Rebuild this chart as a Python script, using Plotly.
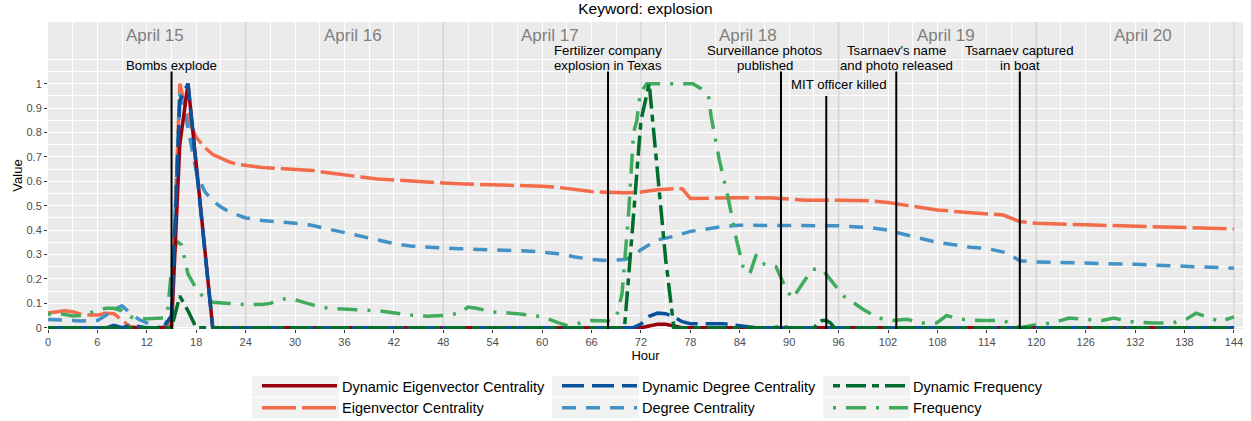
import plotly.graph_objects as go

# ---------------- data ----------------
hours_dec = [0, 14, 15, 16, 17, 18, 19, 20, 72, 73, 74, 75, 76, 77, 144]
dyn_eigen = [0, 0, 0, 0.75, 1.0, 0.67, 0.33, 0, 0, 0.008, 0.014, 0.014, 0.008, 0, 0]

hours_ec = [0, 1, 2, 3, 4, 5, 6, 7, 8, 9, 10, 11, 14, 15, 16, 17, 18, 19, 20, 21, 22, 23, 24,
            26, 28, 30, 32, 34, 36, 38, 40, 42, 44, 46, 48, 50, 52, 54, 56, 58, 60, 62, 64, 66,
            68, 70, 72, 74, 76, 77, 78, 80, 84, 88, 90, 92, 96, 100, 102, 104, 106, 108, 110,
            112, 114, 116, 118, 120, 126, 132, 138, 144]
eigen = [0.06, 0.065, 0.07, 0.066, 0.056, 0.052, 0.052, 0.06, 0.058, 0.03, 0.005, 0, 0, 0.02,
         1.0, 0.86, 0.78, 0.74, 0.71, 0.695, 0.68, 0.67, 0.665,
         0.657, 0.653, 0.65, 0.645, 0.635, 0.625, 0.618, 0.61, 0.605, 0.6, 0.596, 0.593, 0.59,
         0.588, 0.586, 0.585, 0.583, 0.58, 0.575, 0.565, 0.558, 0.555, 0.553, 0.556, 0.566,
         0.57, 0.57, 0.53, 0.532, 0.533, 0.532, 0.526, 0.523, 0.523, 0.52, 0.513, 0.502,
         0.492, 0.483, 0.477, 0.472, 0.467, 0.462, 0.435, 0.428, 0.422, 0.417, 0.41, 0.405]

hours_ddc = [0, 7, 8, 9, 10, 11, 12, 14, 15, 16, 17, 18, 19, 20, 71, 72, 73, 74, 75, 76, 77,
             78, 82, 84, 86, 144]
dyn_degree = [0, 0, 0.01, 0, 0.01, 0.005, 0, 0, 0.05, 0.93, 1.0, 0.66, 0.33, 0, 0, 0.015,
              0.047, 0.06, 0.058, 0.045, 0.025, 0.017, 0.017, 0.01, 0, 0]

hours_dc = [0, 2, 4, 6, 7, 8, 9, 10, 11, 12, 13, 14, 15, 16, 17, 18, 19, 20, 21, 22, 24, 26,
            28, 30, 32, 34, 36, 38, 40, 42, 44, 46, 48, 50, 54, 58, 60, 62, 64, 66, 68, 70, 71,
            72, 73, 74, 76, 78, 80, 82, 84, 88, 90, 96, 100, 102, 104, 106, 108, 110, 112, 114,
            116, 117, 118, 120, 126, 132, 138, 144]
degree = [0.034, 0.03, 0.028, 0.03, 0.05, 0.075, 0.09, 0.06, 0.035, 0.02, 0.005, 0, 0.06,
          0.96, 0.82, 0.64, 0.56, 0.52, 0.495, 0.475, 0.45, 0.44, 0.435, 0.428, 0.42, 0.405,
          0.39, 0.375, 0.36, 0.345, 0.335, 0.33, 0.327, 0.324, 0.32, 0.315, 0.31, 0.303, 0.29,
          0.28, 0.275, 0.28, 0.29, 0.32, 0.34, 0.36, 0.375, 0.395, 0.405, 0.415, 0.42, 0.42,
          0.418, 0.418, 0.41, 0.4, 0.382, 0.365, 0.35, 0.34, 0.33, 0.325, 0.31, 0.295, 0.275,
          0.27, 0.266, 0.26, 0.252, 0.244]

hours_df = [0, 14, 15, 16, 17, 18, 70, 71, 72, 73, 74, 75, 76, 88, 89, 90, 93, 93.5, 94,
            94.5, 95, 95.5, 144]
dyn_freq = [0, 0, 0, 0.13, 0.07, 0, 0, 0.42, 0.85, 1.0, 0.62, 0.28, 0, 0, 0.005, 0, 0, 0.02,
            0.03, 0.03, 0.02, 0, 0]

hours_f = [0, 1, 2, 3, 4, 5, 6, 7, 8, 9, 10, 11, 12, 13, 14, 14.5, 15, 15.6, 16.2, 17, 18,
           19, 20, 22, 24, 26, 27, 28, 29, 30, 31, 32, 34, 36, 38, 40, 42, 44, 46, 48, 50, 51,
           52, 54, 57, 60, 62, 63, 64, 66, 68, 69, 69.7, 70.5, 71.1, 71.5, 71.9, 72.7, 78.3,
           79.3, 80.2, 80.5, 81.5, 82.6, 83.6, 84.4, 85.2, 86.0, 87.0, 88.4, 89.6, 90.4, 91.6,
           92.8, 94.0, 95.2, 96.6, 99.0, 100.8, 102.6, 104.3, 105.9, 107.9, 109.1, 110.8,
           113.2, 116.0, 118.0, 119.6, 122, 124, 126, 128, 129.4, 131.4, 134.2, 136.6, 138.2,
           139.4, 141.1, 142.3, 144]
freq = [0.055, 0.058, 0.055, 0.048, 0.05, 0.06, 0.07, 0.08, 0.08, 0.07, 0.045, 0.037, 0.037,
        0.038, 0.04, 0.06, 0.24, 0.355, 0.34, 0.22, 0.16, 0.12, 0.105, 0.1, 0.095, 0.095, 0.1,
        0.115, 0.12, 0.115, 0.105, 0.095, 0.08, 0.075, 0.073, 0.07, 0.06, 0.052, 0.047, 0.05,
        0.06, 0.085, 0.08, 0.065, 0.058, 0.045, 0.02, 0.01, 0.015, 0.03, 0.028, 0.04, 0.14,
        0.47, 0.8, 0.85, 0.96, 1.0, 1.0, 0.98, 0.95, 0.87, 0.69, 0.53, 0.36, 0.25, 0.22, 0.3,
        0.26, 0.25, 0.16, 0.12, 0.18, 0.24, 0.24, 0.19, 0.13, 0.075, 0.04, 0.03, 0.035, 0.02,
        0.02, 0.05, 0.035, 0.03, 0.03, 0.0, 0.01, 0.02, 0.04, 0.035, 0.03, 0.04, 0.025, 0.02,
        0.02, 0.035, 0.06, 0.04, 0.025, 0.045]

day_labels = ["April 15", "April 16", "April 17", "April 18", "April 19", "April 20"]
day_label_hours = [13, 37, 61, 85, 109, 133]
day_bounds = [24, 48, 72, 96, 120, 144]

event_hours = [15, 68, 89, 94.5, 103, 118]
event_tops = [1.05, 1.05, 1.05, 0.95, 1.05, 1.05]
event_text = [  # (x, y, text)
    (15, 1.076, "Bombs explode"),
    (68, 1.135, "Fertilizer company"),
    (68, 1.076, "explosion in Texas"),
    (87, 1.135, "Surveillance photos"),
    (87, 1.076, "published"),
    (96, 0.998, "MIT officer killed"),
    (103, 1.135, "Tsarnaev's name"),
    (103, 1.076, "and photo released"),
    (118, 1.135, "Tsarnaev captured"),
    (118, 1.076, "in boat"),
]

x_ticks = list(range(0, 145, 6))
y_ticks = [0, 0.1, 0.2, 0.3, 0.4, 0.5, 0.6, 0.7, 0.8, 0.9, 1.0]
y_tick_text = ["0", "0.1", "0.2", "0.3", "0.4", "0.5", "0.6", "0.7", "0.8", "0.9", "1"]
y_minor = [0.05, 0.15, 0.25, 0.35, 0.45, 0.55, 0.65, 0.75, 0.85, 0.95, 1.05, 1.1]
x_minor = list(range(3, 145, 6))

# ---------------- styling ----------------
FONT = "Liberation Sans, Arial, sans-serif"
series = [
    # name, x, y, color, dash, legend, rank
    ("Eigenvector Centrality", hours_ec, eigen, "#F26B4B", "34px,6px", "legend", 2),
    ("Degree Centrality", hours_dc, degree, "#4292C6", "14px,10px", "legend2", 2),
    ("Frequency", hours_f, freq, "#41AB5D", "3px,10px,20px,10px", "legend3", 2),
    ("Dynamic Eigenvector Centrality", hours_dec, dyn_eigen, "#99000D", "solid", "legend", 1),
    ("Dynamic Degree Centrality", hours_ddc, dyn_degree, "#08519C", "22px,8px", "legend2", 1),
    ("Dynamic Frequency", hours_df, dyn_freq, "#006D2C", "7px,6px,20px,6px", "legend3", 1),
]

fig = go.Figure()
for name, xs, ys, col, dash, leg, rank in series:
    fig.add_trace(go.Scatter(
        x=xs, y=ys, mode="lines", name=name,
        line=dict(color=col, width=3.5, dash=dash),
        legend=leg, legendrank=rank, legendgroup=name,
    ))

shapes = []
for h in day_bounds:
    shapes.append(dict(type="line", xref="x", yref="y", x0=h, x1=h, y0=-0.01, y1=1.3,
                       line=dict(color="#D4D4D4", width=1.5), layer="between"))
for h, top in zip(event_hours, event_tops):
    shapes.append(dict(type="line", xref="x", yref="y", x0=h, x1=h, y0=-0.005, y1=top,
                       line=dict(color="black", width=2), layer="above"))

annotations = []
for lab, h in zip(day_labels, day_label_hours):
    annotations.append(dict(x=h, y=1.196, xref="x", yref="y", text=lab, showarrow=False,
                            font=dict(family=FONT, size=17, color="#7F7F7F")))
for x, y, t in event_text:
    annotations.append(dict(x=x, y=y, xref="x", yref="y", text=t, showarrow=False,
                            borderpad=0, valign="middle",
                            font=dict(family=FONT, size=13.2, color="black")))

# legend key backgrounds
L, T, W, H = 48, 22, 1195, 307.5
def px2paper_x(px):
    return (px - L) / W
def px2paper_y(py):
    return (T + H - py) / H
for kx in [252, 552, 823]:
    for ky in [376.5, 398.3]:
        shapes.append(dict(type="rect", xref="paper", yref="paper",
                           x0=px2paper_x(kx), x1=px2paper_x(kx + 87),
                           y0=px2paper_y(ky), y1=px2paper_y(ky + 20.5),
                           fillcolor="#F2F2F2", line=dict(width=0), layer="below"))

leg_common = dict(orientation="v", yanchor="top", xanchor="left", bgcolor="rgba(0,0,0,0)",
                  font=dict(family=FONT, size=14.5, color="black"), tracegroupgap=0,
                  itemwidth=75)

fig.update_layout(
    width=1251, height=421,
    margin=dict(l=L, r=8, t=T, b=421 - T - H, autoexpand=False),
    paper_bgcolor="white", plot_bgcolor="#EBEBEB",
    font=dict(family=FONT),
    title=dict(text="Keyword: explosion", x=0.5, xref="paper", xanchor="center",
               y=1 - 9 / 421, yanchor="middle", yref="container",
               font=dict(family=FONT, size=15.5, color="black")),
    xaxis=dict(range=[0, 145.1], tickvals=x_ticks, ticktext=[str(v) for v in x_ticks],
               showgrid=True, gridcolor="white", gridwidth=1.2, zeroline=False,
               ticks="outside", ticklen=3, tickcolor="#333333", tickwidth=1,
               tickfont=dict(family=FONT, size=11, color="#4D4D4D"),
               minor=dict(tickvals=x_minor, showgrid=True, gridcolor="white", gridwidth=0.8,
                          ticks=""),
               title=dict(text="Hour", standoff=0, font=dict(family=FONT, size=13, color="black")),
               showline=False, automargin=False),
    yaxis=dict(range=[-0.005, 1.253], tickvals=y_ticks, ticktext=y_tick_text,
               showgrid=True, gridcolor="white", gridwidth=1.2, zeroline=False,
               ticks="outside", ticklen=3, tickcolor="#333333", tickwidth=1,
               tickfont=dict(family=FONT, size=11, color="#4D4D4D"),
               minor=dict(tickvals=y_minor, showgrid=True, gridcolor="white", gridwidth=0.8,
                          ticks=""),
               title=dict(text="Value", standoff=0, font=dict(family=FONT, size=13, color="black")),
               showline=False, automargin=False),
    legend=dict(x=px2paper_x(257), y=px2paper_y(370.5), **leg_common),
    legend2=dict(x=px2paper_x(557), y=px2paper_y(370.5), **leg_common),
    legend3=dict(x=px2paper_x(828), y=px2paper_y(370.5), **leg_common),
    shapes=shapes, annotations=annotations,
)

fig.write_html("out.html", config={"displayModeBar": False},
               post_script="document.body.style.margin='0px';")
